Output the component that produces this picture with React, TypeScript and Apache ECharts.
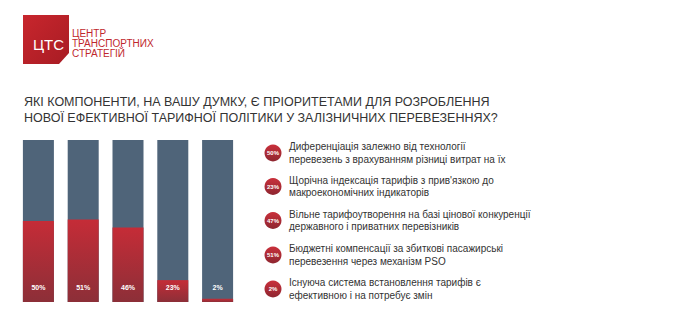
import React, { useEffect, useRef } from "react";
import * as echarts from "echarts";

const categories = ["1", "2", "3", "4", "5"];
const barLabels = ["50%", "51%", "46%", "23%", "2%"];
// red bar heights as drawn in the picture (% of full column)
const redHeights = [50, 51, 46, 13.5, 2];

const legendPercents = ["50%", "23%", "47%", "51%", "2%"];
const legendLines = [
  ["Диференціація залежно від технології", "перевезень з врахуванням різниці витрат на їх"],
  ["Щорічна індексація тарифів з прив'язкою до", "макроекономічних індикаторів"],
  ["Вільне тарифоутворення на базі цінової конкуренції", "державного і приватних перевізників"],
  ["Бюджетні компенсації за збиткові пасажирські", "перевезення через механізм PSO"],
  ["Існуюча система встановлення тарифів є", "ефективною і на потребує змін"],
];

const titleText =
  "ЯКІ КОМПОНЕНТИ, НА ВАШУ ДУМКУ, Є ПРІОРИТЕТАМИ ДЛЯ РОЗРОБЛЕННЯ\nНОВОЇ ЕФЕКТИВНОЇ ТАРИФНОЇ ПОЛІТИКИ У ЗАЛІЗНИЧНИХ ПЕРЕВЕЗЕННЯХ?";
const logoLines = ["ЦЕНТР", "ТРАНСПОРТНИХ", "СТРАТЕГІЙ"];

const FONT = "Liberation Sans, Arial, sans-serif";
const RED_TOP = "#c52c37";
const RED_BOTTOM = "#8c2f38";
const GREY = "#4f6479";

export default function App() {
  const ref = useRef<HTMLDivElement>(null);
  useEffect(() => {
    if (!ref.current) return;
    const chart = echarts.init(ref.current, undefined, { renderer: "svg" });
    const redGrad = new echarts.graphic.LinearGradient(0, 0, 0, 1, [
      { offset: 0, color: RED_TOP },
      { offset: 1, color: RED_BOTTOM },
    ]);
    const graphics: any[] = [];
    // logo
    graphics.push({
      type: "polygon",
      shape: { points: [[23, 15], [69, 15], [69, 53], [59, 64], [23, 64]] },
      style: {
        fill: new echarts.graphic.LinearGradient(0, 0, 1, 1, [
          { offset: 0, color: "#c8262d" },
          { offset: 1, color: "#a81c24" },
        ]),
      },
    });
    graphics.push({
      type: "text",
      x: 33,
      y: 44,
      style: { text: "ЦТС", fill: "#fff", font: `15px ${FONT}`, verticalAlign: "middle" },
    });
    logoLines.forEach((t, i) => {
      graphics.push({
        type: "text",
        x: 72,
        y: 33 + i * 10,
        style: { text: t, fill: "#c0272d", font: `10px ${FONT}`, verticalAlign: "middle" },
      });
    });
    // legend
    const rowY = [153, 186.5, 220.5, 255, 289];
    legendLines.forEach((lines, i) => {
      const cy = rowY[i];
      graphics.push({
        type: "circle",
        shape: { cx: 273, cy, r: 8.5 },
        style: {
          fill: new echarts.graphic.LinearGradient(0, 0, 0, 1, [
            { offset: 0, color: "#c9303b" },
            { offset: 1, color: "#8e2630" },
          ]),
        },
      });
      graphics.push({
        type: "text",
        x: 273,
        y: cy,
        style: {
          text: legendPercents[i],
          fill: "#fff",
          font: `bold 6px ${FONT}`,
          align: "center",
          verticalAlign: "middle",
        },
      });
      lines.forEach((ln, j) => {
        graphics.push({
          type: "text",
          x: 289,
          y: cy - 6.5 + j * 12.5,
          style: { text: ln, fill: "#333", font: `10px ${FONT}`, verticalAlign: "middle" },
        });
      });
    });

    chart.setOption({
      animation: false,
      title: {
        text: titleText,
        left: 19,
        top: 89,
        textStyle: {
          fontFamily: FONT,
          fontSize: 12.5,
          fontWeight: "normal",
          color: "#333",
          lineHeight: 16,
        },
      },
      grid: { left: 16, top: 140, width: 224, height: 162 },
      xAxis: {
        type: "category",
        data: categories,
        axisLine: { show: false },
        axisTick: { show: false },
        axisLabel: { show: false },
      },
      yAxis: {
        type: "value",
        min: 0,
        max: 100,
        show: false,
        splitLine: { show: false },
      },
      series: [
        {
          type: "bar",
          data: redHeights,
          barWidth: 31,
          showBackground: true,
          backgroundStyle: { color: GREY },
          itemStyle: { color: redGrad },
          label: {
            show: true,
            position: "insideBottom",
            distance: 11,
            formatter: (p: any) => barLabels[p.dataIndex],
            color: "#fff",
            fontFamily: FONT,
            fontSize: 7,
            fontWeight: "bold",
          },
        },
      ],
      graphic: graphics,
    });
    return () => chart.dispose();
  }, []);
  return (
    <div
      ref={ref}
      style={{ position: "fixed", left: 0, top: 0, width: 700, height: 333, background: "#fff" }}
    />
  );
}
